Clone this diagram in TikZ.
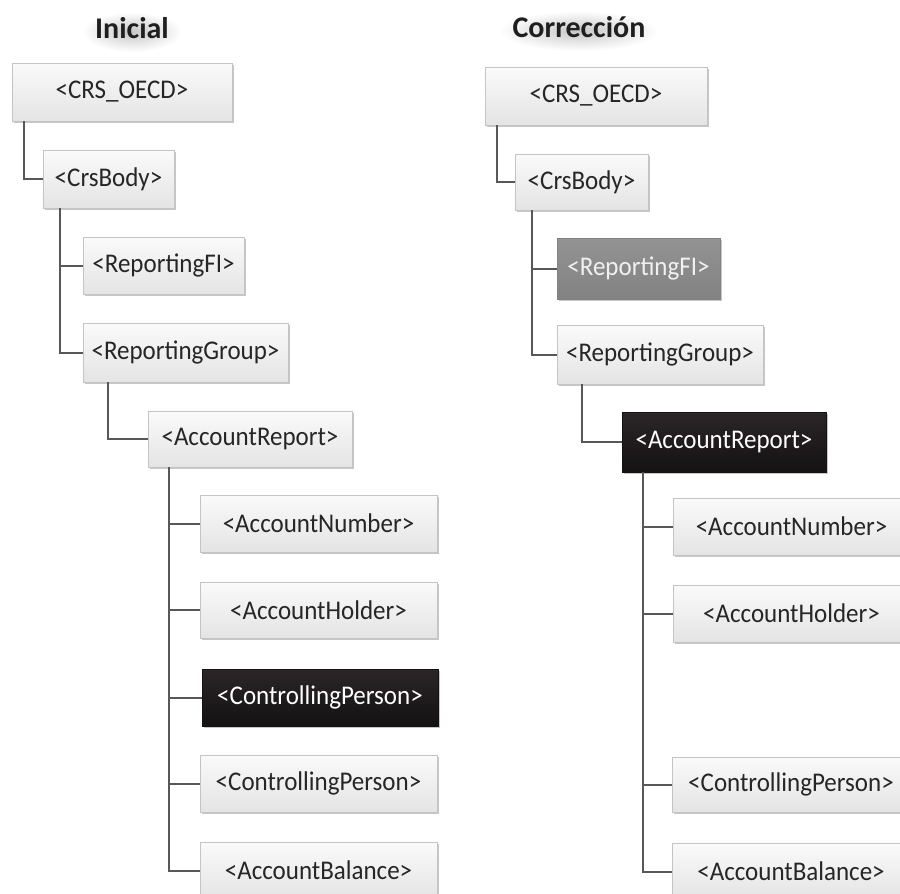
\documentclass[tikz,border=0pt]{standalone}
\usepackage{fontspec}
\setmainfont{Carlito}
\usetikzlibrary{shadows}
\definecolor{boxtop}{HTML}{FAFAFA}
\definecolor{boxbot}{HTML}{E4E4E4}
\definecolor{boxline}{HTML}{C4C4C4}
\definecolor{txt}{HTML}{262626}
\definecolor{conncol}{HTML}{585858}
\definecolor{darktop}{HTML}{2B2527}
\definecolor{darkbot}{HTML}{141213}
\definecolor{graytop}{HTML}{939393}
\definecolor{graybot}{HTML}{828282}
\tikzset{
  xmlbox/.style={draw=boxline, line width=0.8pt, top color=boxtop, bottom color=boxbot,
    text=txt, inner sep=0pt, font=\fontsize{25}{30}\selectfont,
    drop shadow={shadow xshift=2pt, shadow yshift=-2pt, opacity=0.22, fill=black}},
  darkbox/.style={xmlbox, draw=darkbot, top color=darktop, bottom color=darkbot, text=white},
  graybox/.style={xmlbox, draw=graybot, top color=graytop, bottom color=graybot, text=white!94!black},
  conn/.style={draw=conncol, line width=2pt},
  titlefont/.style={font=\fontsize{30}{36}\selectfont\bfseries, text=black!88},
  glow/.style={inner color=black!22, outer color=white}
}
% \bx{name}{x1}{y1}{x2}{y2}{style}{text}
\newcommand{\bx}[7]{%
  \pgfmathsetmacro{\cx}{(#2+#4)/2}\pgfmathsetmacro{\cy}{(#3+#5)/2}%
  \pgfmathsetmacro{\ww}{#4-#2}\pgfmathsetmacro{\hh}{#5-#3}%
  \node[#6, minimum width=\ww pt, minimum height=\hh pt] (#1) at (\cx,\cy) {\scalebox{1}[1.08]{#7}};}
\begin{document}
\begin{tikzpicture}[x=1pt,y=-1pt]
\useasboundingbox[fill=white] (0,0) rectangle (900,894);
% titles with soft shadow
\shade[glow] (132,32) ellipse [x radius=50pt, y radius=20pt];
\shade[glow] (579,31) ellipse [x radius=80pt, y radius=20pt];
\node[titlefont, anchor=base] (tL) at (132,38) {Inicial};
\node[titlefont, anchor=base] (tR) at (579,37) {Corrección};

% ---------- left tree ----------
\bx{crsL}{12}{63}{232}{121}{xmlbox}{<CRS\_OECD>}
\bx{bodyL}{43}{150}{174}{208}{xmlbox}{<CrsBody>}
\bx{rfiL}{83}{237}{244}{294}{xmlbox}{<ReportingFI>}
\bx{rgL}{83}{323}{288}{382}{xmlbox}{<ReportingGroup>}
\bx{arL}{148}{411}{352}{467}{xmlbox}{<AccountReport>}
\bx{anL}{200}{495}{437}{552}{xmlbox}{<AccountNumber>}
\bx{ahL}{200}{582}{437}{638}{xmlbox}{<AccountHolder>}
\bx{cpdL}{202}{669}{438}{726}{darkbox}{<ControllingPerson>}
\bx{cpL}{200}{755}{437}{812}{xmlbox}{<ControllingPerson>}
\bx{abL}{200}{842}{437}{899}{xmlbox}{<AccountBalance>}

\draw[conn] ([xshift=12pt]crsL.south west) |- (bodyL.west);
\draw[conn] ([xshift=17pt]bodyL.south west) |- (rfiL.west);
\draw[conn] ([xshift=17pt]bodyL.south west) |- (rgL.west);
\draw[conn] ([xshift=25pt]rgL.south west) |- (arL.west);
\foreach \t in {anL,ahL,cpdL,cpL,abL}
  \draw[conn] ([xshift=21pt]arL.south west) |- (\t.west);

% ---------- right tree ----------
\bx{crsR}{485}{67}{707}{125}{xmlbox}{<CRS\_OECD>}
\bx{bodyR}{515}{154}{648}{210}{xmlbox}{<CrsBody>}
\bx{rfiR}{557}{238}{720}{299}{graybox}{<ReportingFI>}
\bx{rgR}{557}{325}{763}{384}{xmlbox}{<ReportingGroup>}
\bx{arR}{622}{412}{826}{472}{darkbox}{<AccountReport>}
\bx{anR}{673}{498}{910}{555}{xmlbox}{<AccountNumber>}
\bx{ahR}{673}{585}{910}{642}{xmlbox}{<AccountHolder>}
\bx{cpR}{672}{757}{910}{812}{xmlbox}{<ControllingPerson>}
\bx{abR}{672}{843}{910}{900}{xmlbox}{<AccountBalance>}

\draw[conn] ([xshift=12pt]crsR.south west) |- (bodyR.west);
\draw[conn] ([xshift=17pt]bodyR.south west) |- (rfiR.west);
\draw[conn] ([xshift=17pt]bodyR.south west) |- (rgR.west);
\draw[conn] ([xshift=25pt]rgR.south west) |- (arR.west);
\foreach \t in {anR,ahR,cpR,abR}
  \draw[conn] ([xshift=21pt]arR.south west) |- (\t.west);
\end{tikzpicture}
\end{document}
